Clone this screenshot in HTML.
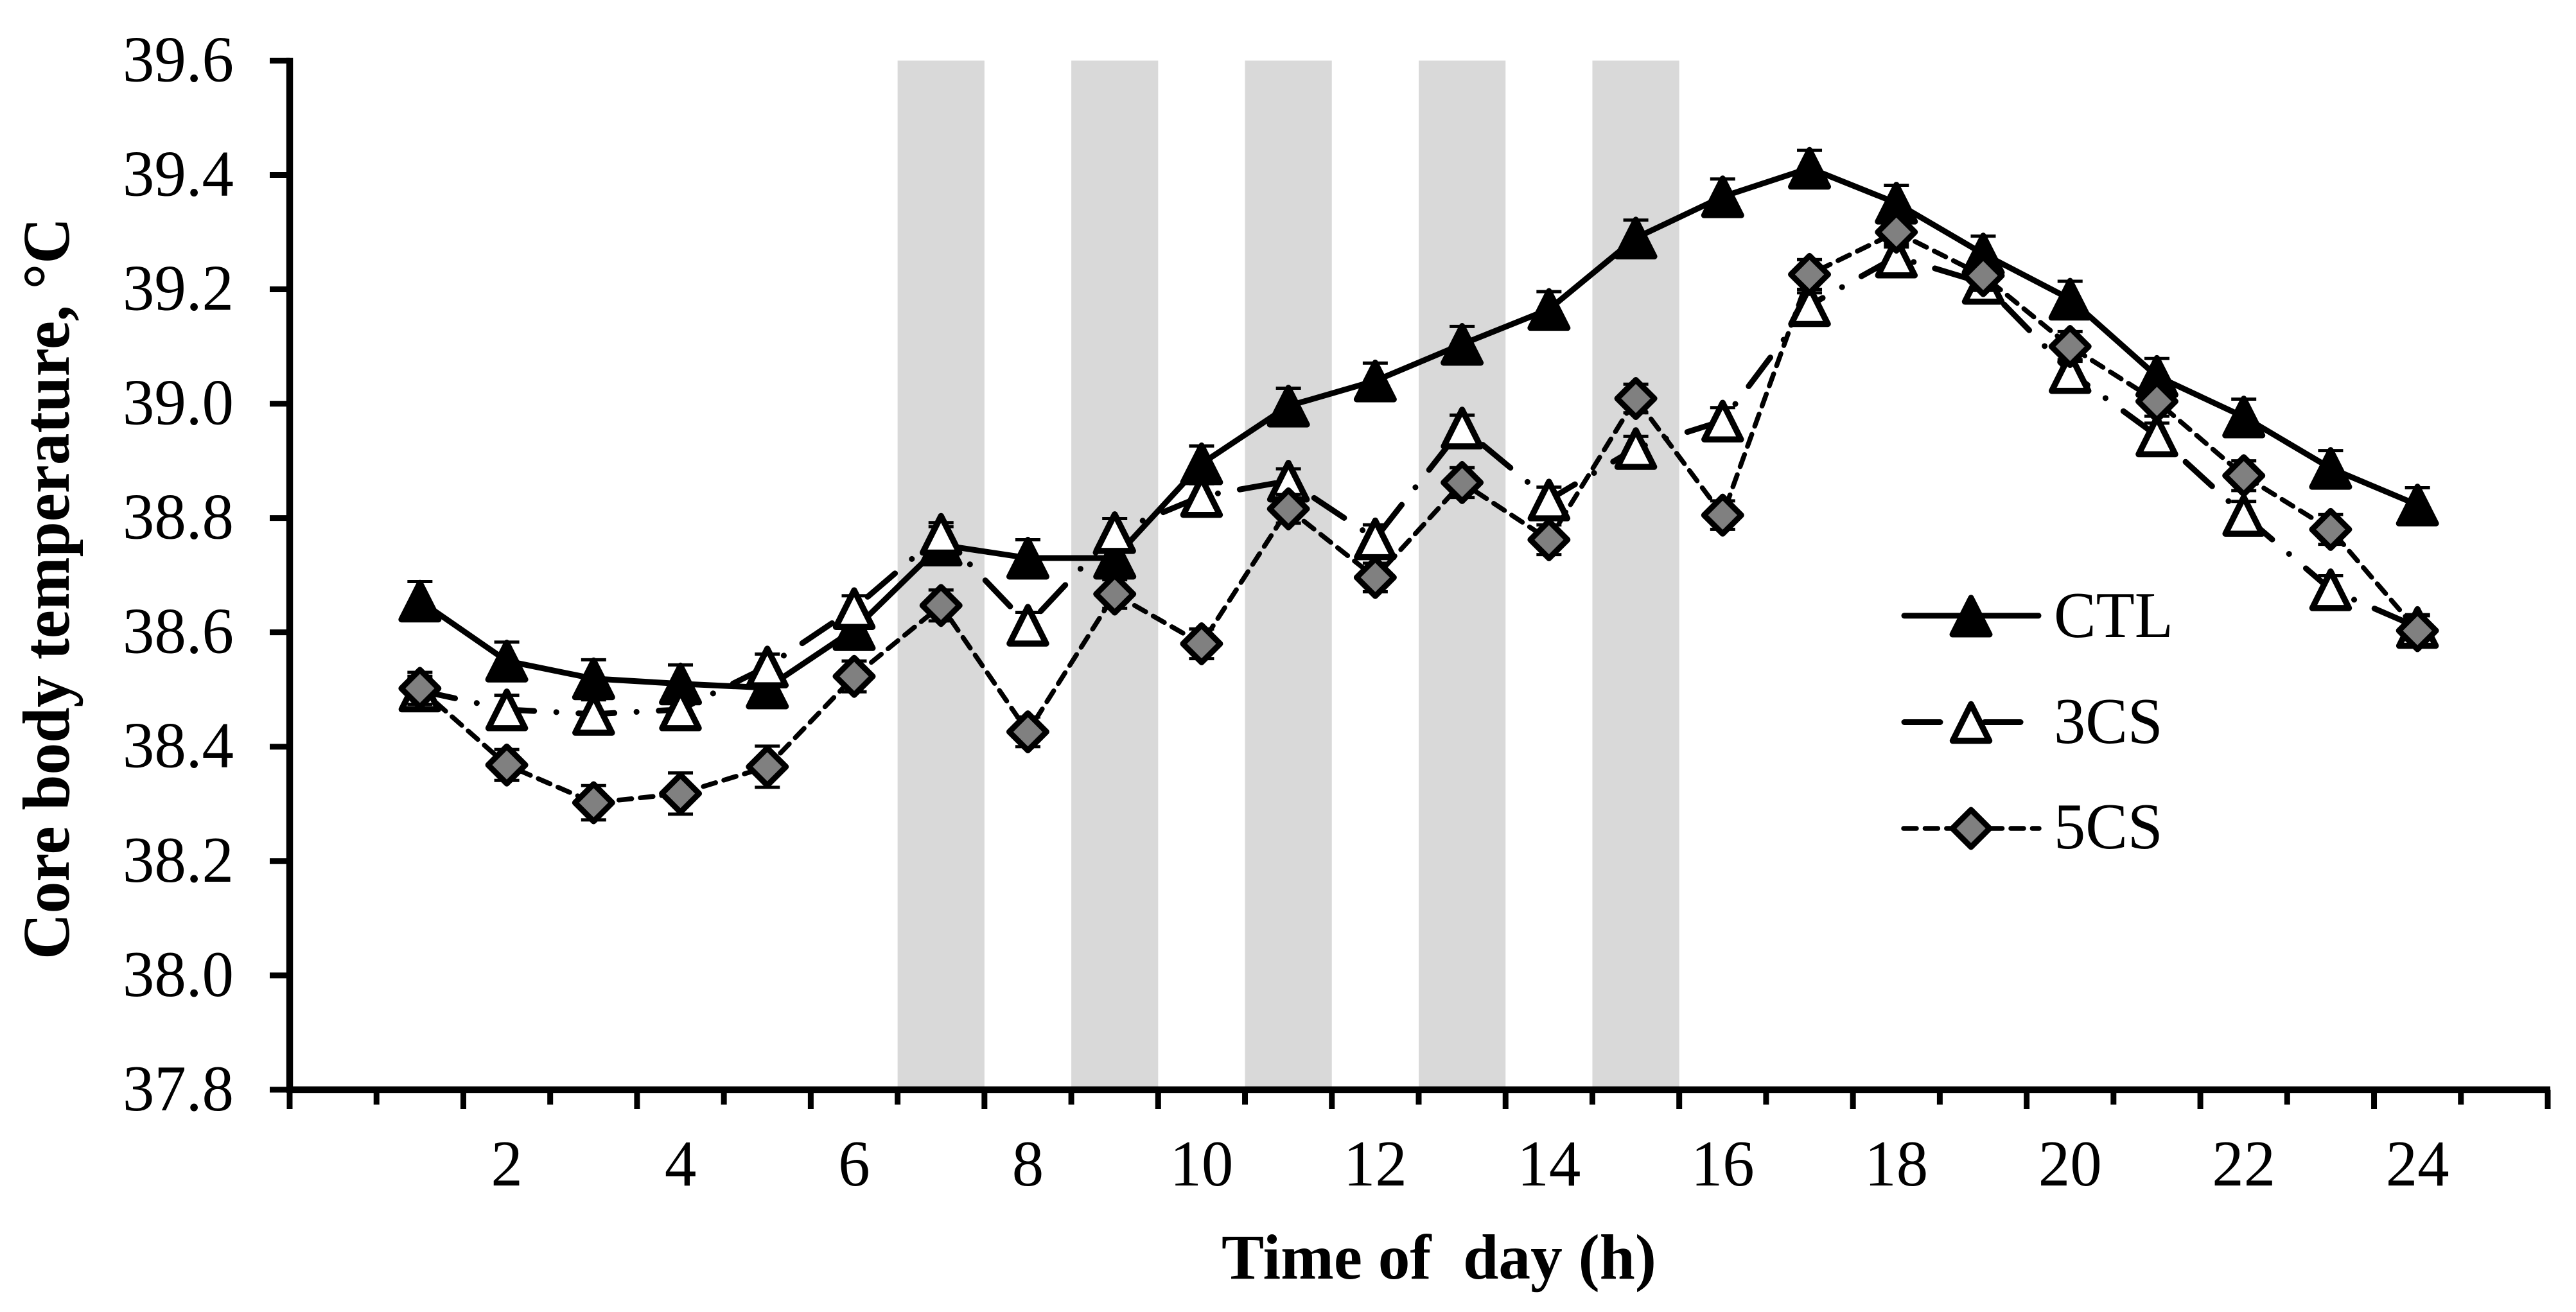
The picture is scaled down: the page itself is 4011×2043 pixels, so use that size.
<!DOCTYPE html>
<html lang="en">
<head>
<meta charset="utf-8">
<title>Core body temperature by time of day</title>
<style>
html,body{margin:0;padding:0;background:#fff;width:4011px;height:2043px;overflow:hidden}
svg{display:block}
text{font-family:"Liberation Serif",serif;fill:#000}
</style>
</head>
<body>
<svg id="chart" xmlns="http://www.w3.org/2000/svg" width="4011" height="2043" viewBox="0 0 4011 2043">
  <rect x="0" y="0" width="4011" height="2043" fill="#fff"/>
  <g id="bands"></g>
  <g id="series"></g>
  <g id="axes"></g>
  <text transform="translate(107,1494) rotate(-90)" font-size="104" font-weight="bold" textLength="1155" lengthAdjust="spacingAndGlyphs">Core body temperature, °C</text>
  <text x="1902" y="1991" font-size="100" font-weight="bold" textLength="677" lengthAdjust="spacingAndGlyphs" xml:space="preserve">Time of  day (h)</text>
  <g>
    <g>
      <line x1="2965" y1="958.7" x2="3174" y2="958.7" stroke="#000" stroke-width="9" stroke-linecap="round"/>
      <polygon points="3069,930.7 3098,988 3040,988" fill="#000" stroke="#000" stroke-width="9" stroke-linejoin="round"/>
      <text transform="translate(3198,992) scale(.965,1)" font-size="102">CTL</text>
    </g>
    <g>
      <line x1="2965" y1="1124.5" x2="3148" y2="1124.5" stroke="#000" stroke-width="9" stroke-linecap="round" stroke-dasharray="56 34.5 0.1 34.5"/>
      <polygon points="3069,1096.5 3097.5,1153.5 3040.5,1153.5" fill="#fff" stroke="#000" stroke-width="9.5" stroke-linejoin="round"/>
      <text transform="translate(3198,1157) scale(.965,1)" font-size="102">3CS</text>
    </g>
    <g>
      <line x1="2964" y1="1290" x2="3175" y2="1290" stroke="#000" stroke-width="7.5" stroke-linecap="round" stroke-dasharray="20 13.4"/>
      <polygon points="3069,1261 3098,1290 3069,1319 3040,1290" fill="#808080" stroke="#000" stroke-width="9" stroke-linejoin="round"/>
      <text transform="translate(3198,1321) scale(.965,1)" font-size="102">5CS</text>
    </g>
  </g>
</svg>
<script>
const hours = [1,2,3,4,5,6,7,8,9,10,11,12,13,14,15,16,17,18,19,20,21,22,23,24];
const ctlValues = [38.655,38.55,38.519,38.51,38.503,38.605,38.753,38.73,38.73,38.895,38.996,39.04,39.104,39.165,39.29,39.362,39.412,39.351,39.262,39.183,39.048,38.977,38.887,38.823];
const ctlErrors = [0.034,0.033,0.033,0.033,0.033,0.032,0.032,0.032,0.032,0.031,0.031,0.031,0.031,0.031,0.031,0.031,0.031,0.031,0.031,0.031,0.031,0.031,0.031,0.03];
const cs3Values = [38.498,38.465,38.457,38.465,38.54,38.642,38.772,38.613,38.775,38.838,38.865,38.764,38.958,38.832,38.922,38.97,39.172,39.257,39.211,39.055,38.944,38.805,38.675,38.609];
const cs3Errors = [0.025,0.025,0.025,0.025,0.022,0.022,0.02,0.022,0.024,0.022,0.021,0.024,0.022,0.022,0.021,0.023,0.022,0.022,0.022,0.022,0.022,0.024,0.024,0.022];
const cs5Values = [38.502,38.368,38.302,38.318,38.365,38.523,38.647,38.426,38.667,38.58,38.816,38.696,38.862,38.762,39.009,38.805,39.226,39.3,39.224,39.1,39.004,38.874,38.78,38.603];
const cs5Errors = [0.028,0.027,0.03,0.036,0.036,0.027,0.027,0.026,0.025,0.026,0.025,0.025,0.026,0.026,0.025,0.025,0.026,0.026,0.026,0.026,0.026,0.026,0.026,0.026];
const yTickValues = [37.8,38.0,38.2,38.4,38.6,38.8,39.0,39.2,39.4,39.6];
const xTickLabels = [2,4,6,8,10,12,14,16,18,20,22,24];
const shadedStarts = [7,9,11,13,15];
const axisMaxSlots = 26;
const yMin = 37.8;
const yMax = 39.6;

const NS = 'http://www.w3.org/2000/svg';
const plotLeft = 451, plotRight = 3967, plotTop = 94.4, plotBottom = 1696.9;
function slotX(s){ return plotLeft + (plotRight - plotLeft) * s / axisMaxSlots; }
function xScale(h){ return slotX(h + 0.5); }
function yScale(v){ return plotBottom - (v - yMin) / (yMax - yMin) * (plotBottom - plotTop); }
function mk(tag, attrs, parent){
  const e = document.createElementNS(NS, tag);
  for (const k in attrs) e.setAttribute(k, attrs[k]);
  parent.appendChild(e);
  return e;
}

const bandsG = document.getElementById('bands');
shadedStarts.forEach(function(s){
  const r = mk('rect', {x: slotX(s), y: plotTop, width: slotX(s + 1) - slotX(s), height: plotBottom - plotTop, fill: '#d9d9d9'}, bandsG);
  
  
});

const seriesG = document.getElementById('series');
function drawSeries(key, values, errors, lineAttrs, markerFn){
  const g = mk('g', {}, seriesG);
  
  
  const pts = hours.map(function(h, i){ return xScale(h) + ',' + yScale(values[i]); }).join(' ');
  const line = mk('polyline', Object.assign({points: pts, fill: 'none', stroke: '#000', 'stroke-linejoin': 'round', 'stroke-linecap': 'round'}, lineAttrs), g);
  
  
  hours.forEach(function(h, i){
    const x = xScale(h), hi = yScale(values[i] + errors[i]), lo = yScale(values[i] - errors[i]);
    const eb = mk('path', {d: 'M' + (x - 19.5) + ' ' + hi + 'H' + (x + 19.5) + 'M' + x + ' ' + hi + 'V' + lo + 'M' + (x - 19.5) + ' ' + lo + 'H' + (x + 19.5), fill: 'none', stroke: '#000', 'stroke-width': 5}, g);
    
    
  });
  hours.forEach(function(h, i){
    const m = markerFn(xScale(h), yScale(values[i]), g);
    
    
  });
}
function blackTriangle(x, y, g){
  return mk('polygon', {points: x + ',' + (y - 28.5) + ' ' + (x + 29) + ',' + (y + 29) + ' ' + (x - 29) + ',' + (y + 29), fill: '#000', stroke: '#000', 'stroke-width': 9, 'stroke-linejoin': 'round'}, g);
}
function openTriangle(x, y, g){
  return mk('polygon', {points: x + ',' + (y - 28) + ' ' + (x + 28.5) + ',' + (y + 29) + ' ' + (x - 28.5) + ',' + (y + 29), fill: '#fff', stroke: '#000', 'stroke-width': 9.5, 'stroke-linejoin': 'round'}, g);
}
function greyDiamond(x, y, g){
  return mk('polygon', {points: x + ',' + (y - 29) + ' ' + (x + 29) + ',' + y + ' ' + x + ',' + (y + 29) + ' ' + (x - 29) + ',' + y, fill: '#808080', stroke: '#000', 'stroke-width': 9, 'stroke-linejoin': 'round'}, g);
}
drawSeries('ctl', ctlValues, ctlErrors, {'stroke-width': 9}, blackTriangle);
drawSeries('3cs', cs3Values, cs3Errors, {'stroke-width': 9, 'stroke-dasharray': '56 34.5 0.1 34.5'}, openTriangle);
drawSeries('5cs', cs5Values, cs5Errors, {'stroke-width': 7.5, 'stroke-dasharray': '20 13.4'}, greyDiamond);

const axesG = document.getElementById('axes');
const yAxisLine = mk('line', {x1: plotLeft, y1: plotTop - 4.5, x2: plotLeft, y2: plotBottom + 5, stroke: '#000', 'stroke-width': 10.5}, axesG);


const xAxisLine = mk('line', {x1: plotLeft, y1: plotBottom, x2: plotRight + 4, y2: plotBottom, stroke: '#000', 'stroke-width': 10.5}, axesG);



yTickValues.forEach(function(v){
  const y = yScale(v);
  const t = mk('line', {x1: 420, y1: y, x2: plotLeft, y2: y, stroke: '#000', 'stroke-width': 9}, axesG);
  
  
  const l = mk('text', {transform: 'translate(364,' + (y + 32) + ') scale(.97,1)', 'font-size': 102, 'text-anchor': 'end'}, axesG);
  l.textContent = v.toFixed(1);
  
  
});

for (let s = 0; s <= axisMaxSlots; s++) {
  const t = mk('line', {x1: slotX(s), y1: plotBottom, x2: slotX(s), y2: s % 2 === 0 ? 1727 : 1720, stroke: '#000', 'stroke-width': 9}, axesG);
  
  
}
xTickLabels.forEach(function(h){
  const l = mk('text', {transform: 'translate(' + xScale(h) + ',1846) scale(.97,1)', 'font-size': 102, 'text-anchor': 'middle'}, axesG);
  l.textContent = String(h);
  
  
});
</script>
</body>
</html>
